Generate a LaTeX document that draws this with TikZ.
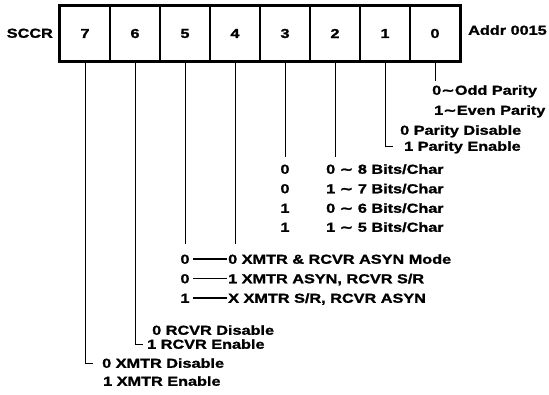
\documentclass[tikz,border=0pt]{standalone}
\usepackage{fontspec}
\setmainfont{Liberation Sans}[FakeStretch=1.25, BoldFeatures={FakeBold=1.3}]
\newfontfamily\symfont{DejaVu Sans}[FakeStretch=1.25, BoldFeatures={FakeBold=1.3}]
\newcommand{\tld}{{\symfont\bfseries ∼}}

\tikzset{
  cell/.style={draw, line width=1.4pt, minimum width=50pt, minimum height=55pt,
    inner sep=0pt, font=\bfseries\fontsize{13}{15}\selectfont},
  lbl/.style={anchor=west, inner sep=1pt, text height=9.5pt, text depth=0pt,
    font=\bfseries\fontsize{13}{15}\selectfont},
  bit/.style={lbl, anchor=center},
  wire/.style={line width=0.9pt},
  bar/.style={line width=1.7pt, shorten <=2.5pt},
}

\begin{document}
\begin{tikzpicture}[x=1pt,y=-1pt]
\useasboundingbox (0,0) rectangle (549,394);

% register
\node[cell] (c7) at (85,33.5) {7};
\node[cell] (c6) at (135,33.5) {6};
\node[cell] (c5) at (185,33.5) {5};
\node[cell] (c4) at (235,33.5) {4};
\node[cell] (c3) at (285,33.5) {3};
\node[cell] (c2) at (335,33.5) {2};
\node[cell] (c1) at (385,33.5) {1};
\node[cell] (c0) at (435,33.5) {0};
\draw[line width=2.6pt] (c7.north west) rectangle (c0.south east);

\node[lbl, anchor=east] (sccr) at (54,33) {SCCR};
\node[lbl] (addr) at (467,30) {Addr 0015};

% bit 0
\coordinate (e0) at (435,81);
\draw[wire] (c0.south) -- (e0);
\node[lbl] (odd) at (431,90) {0\tld Odd Parity};
\node[lbl] (even) at (433,110) {1\tld Even Parity};

% bit 1
\node[lbl] (pdis) at (399,130) {0 Parity Disable};
\node[lbl] (pen) at (403,146) {1 Parity Enable};
\draw[wire, shorten >=10pt] (c1.south) |- (pen.west);

% bits 3 and 2
\coordinate (e3) at (285,157);
\coordinate (e2) at (335,157);
\draw[wire] (c3.south) -- (e3);
\draw[wire] (c2.south) -- (e2);
\node[bit] (w0) at (285,169) {0};
\node[bit] (w1) at (285,188.5) {0};
\node[bit] (w2) at (285,208) {1};
\node[bit] (w3) at (285,227) {1};
\node[lbl] (wt0) at (325,169) {0 \tld\ 8 Bits/Char};
\node[lbl] (wt1) at (325,188.5) {1 \tld\ 7 Bits/Char};
\node[lbl] (wt2) at (325,208) {0 \tld\ 6 Bits/Char};
\node[lbl] (wt3) at (325,227) {1 \tld\ 5 Bits/Char};

% bits 5 and 4
\coordinate (e5) at (185,244);
\coordinate (e4) at (235,244);
\draw[wire] (c5.south) -- (e5);
\draw[wire] (c4.south) -- (e4);
\node[bit] (m0) at (185,259) {0};
\node[bit] (m1) at (185,278.5) {0};
\node[bit] (m2) at (185,298) {1};
\node[lbl] (mt0) at (227,259) {0 XMTR \& RCVR ASYN Mode};
\node[lbl] (mt1) at (227,278.5) {1 XMTR ASYN, RCVR S/R};
\node[lbl] (mt2) at (227,298) {X XMTR S/R, RCVR ASYN};
\draw[bar] (m0.east) -- (mt0.west);
\draw[bar] (m1.east) -- (mt1.west);
\draw[bar] (m2.east) -- (mt2.west);

% bit 6
\node[lbl] (rdis) at (151,330) {0 RCVR Disable};
\node[lbl] (ren) at (146,344) {1 RCVR Enable};
\draw[wire, shorten >=3pt] (c6.south) |- (ren.west);

% bit 7
\node[lbl] (xdis) at (101,363) {0 XMTR Disable};
\node[lbl] (xen) at (102,381) {1 XMTR Enable};
\draw[wire, shorten >=8pt] (c7.south) |- (xdis.west);
\end{tikzpicture}
\end{document}
